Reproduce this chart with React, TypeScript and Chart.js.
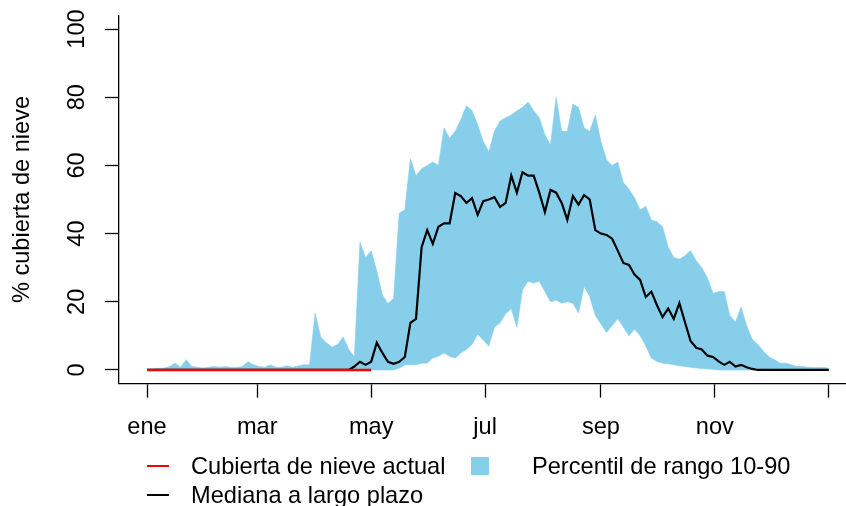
import React, { useEffect, useRef } from "react";
import { Chart, registerables } from "chart.js";

Chart.register(...registerables);

// ---- data ----
// one value every 3 days, from 1 Jan (day 0); the last entry is day 365
const STEP_DAYS = 3;
const LAST_DAY = 365;

const MONTH_TICK_DAYS = [0, 59, 120, 181, 243, 304, 365];
const MONTH_LABELS = ["ene", "mar", "may", "jul", "sep", "nov", ""];
const Y_TICKS = [0, 20, 40, 60, 80, 100];

// current snow cover (%), 1 Jan .. 1 May
const CURRENT = [
  0, 0, 0, 0, 0, 0, 0, 0, 0, 0,
  0, 0, 0, 0, 0, 0, 0, 0, 0, 0,
  0, 0, 0, 0, 0, 0, 0, 0, 0, 0,
  0, 0, 0, 0, 0, 0, 0, 0, 0, 0,
  0,
];

// long term median (%)
const MEDIAN = [
  0, 0, 0, 0, 0, 0, 0, 0, 0, 0,
  0, 0, 0, 0, 0, 0, 0, 0, 0, 0,
  0, 0, 0, 0, 0, 0, 0, 0, 0, 0,
  0, 0, 0, 0, 0, 0, 0, 1, 2.4, 1.5,
  2.4, 8, 5, 2.4, 1.8, 2.4, 3.8, 13.8, 15, 36,
  41, 37, 42, 43, 43, 51.9, 51, 49, 50.4, 45.5,
  49.5, 50, 50.7, 47.8, 49, 57, 52, 58, 57, 57,
  52, 46.3, 52.8, 52, 49, 44, 51, 48.5, 51.3, 50,
  41, 40, 39.6, 38.5, 35, 31.4, 30.8, 28, 26.4, 21.4,
  23, 19, 15.5, 18, 15, 19.6, 14, 8.5, 6.5, 6,
  4.2, 3.8, 2.5, 1.5, 2.4, 1, 1.5, 0.8, 0.3, 0,
  0, 0, 0, 0, 0, 0, 0, 0, 0, 0,
  0, 0, 0,
];

// 90th percentile (%)
const P90 = [
  0.3, 0.3, 0.5, 0.5, 1, 2, 0.8, 3, 1, 0.8,
  0.6, 0.8, 1, 0.8, 1, 0.7, 0.8, 1, 2.4, 1.5,
  1, 0.8, 1.5, 0.8, 0.8, 1.2, 0.8, 1.2, 1.5, 1.5,
  16.7, 9.7, 8, 6.7, 7.5, 9.7, 6, 3.8, 37.5, 33,
  35, 29, 22, 19.5, 21, 46, 47, 62, 57, 59,
  60, 61, 60, 71, 68, 70, 73.5, 77.5, 76, 72,
  67, 64, 70, 73, 74, 74.8, 76, 77, 78.6, 76,
  74, 69, 66, 80, 70, 70, 78, 77, 71, 70,
  74.8, 67, 61.6, 60, 61, 55, 53, 50.5, 47, 48,
  44, 43.5, 42, 36, 33, 32.5, 33.5, 35, 32, 30,
  27, 22.5, 23, 23, 16, 14, 18.5, 13, 9, 7.5,
  5.5, 3.8, 3, 2, 2, 1.5, 1, 1, 0.8, 0.7,
  0.7, 0.7, 0.5,
];

// 10th percentile (%)
const P10 = [
  0, 0, 0, 0, 0, 0, 0, 0, 0, 0,
  0, 0, 0, 0, 0, 0, 0, 0, 0, 0,
  0, 0, 0, 0, 0, 0, 0, 0, 0, 0,
  0, 0, 0, 0, 0, 0, 0, 0, 0, 0,
  0, 0, 0, 0, 0, 0.5, 1.5, 1.5, 1.5, 2,
  2, 3.5, 4, 5, 4, 3.5, 5, 6, 7.5, 10.5,
  8.8, 7, 12.6, 13.8, 16.5, 18, 12.5, 23.5, 26, 25.5,
  26, 23, 20, 20.5, 19.6, 20, 19.6, 16.7, 24.5, 21.5,
  16, 13.5, 11, 13, 15, 12.6, 10, 12, 10, 7,
  3.5, 2.5, 2, 1.8, 1.5, 1.2, 1, 0.8, 0.6, 0.4,
  0.3, 0.2, 0, 0, 0, 0, 0, 0, 0, 0,
  0, 0, 0, 0, 0, 0, 0, 0, 0, 0,
  0, 0, 0,
];

const LABEL_CURRENT = "Cubierta de nieve actual";
const LABEL_MEDIAN = "Mediana a largo plazo";
const LABEL_BAND = "Percentil de rango 10-90";
const Y_TITLE = "% cubierta de nieve";

// ---- styles ----
const FONT = '"Liberation Sans", Arial, Helvetica, sans-serif';
const FONT_SIZE = 23.6;
const RED = "#FF0000";
const BLACK = "#000000";
const SKY = "#87CEEB";

const dayOf = (i: number) => Math.min(i * STEP_DAYS, LAST_DAY);
const toPoints = (arr: number[]) => arr.map((v, i) => ({ x: dayOf(i), y: v }));

const rLegend = {
  id: "rLegend",
  afterDraw(chart: any) {
    const { ctx } = chart;
    const ds = chart.data.datasets;
    ctx.save();
    ctx.font = `${FONT_SIZE}px ${FONT}`;
    ctx.textBaseline = "middle";
    ctx.textAlign = "left";
    const lineItem = (d: any, y: number) => {
      ctx.strokeStyle = d.borderColor;
      ctx.lineWidth = 2;
      ctx.beginPath();
      ctx.moveTo(147, y);
      ctx.lineTo(169, y);
      ctx.stroke();
      ctx.fillStyle = BLACK;
      ctx.fillText(d.label, 191, y + 1);
    };
    lineItem(ds[0], 466);
    lineItem(ds[1], 495);
    const band = ds[2];
    ctx.fillStyle = band.backgroundColor;
    ctx.fillRect(471, 457, 18, 18);
    ctx.fillStyle = BLACK;
    ctx.fillText(band.label, 532, 467);
    ctx.restore();
  },
};

export default function App() {
  const ref = useRef<HTMLCanvasElement | null>(null);

  useEffect(() => {
    if (!ref.current) return;
    const font = { family: FONT, size: FONT_SIZE };
    const chart = new Chart(ref.current, {
      type: "line",
      data: {
        datasets: [
          {
            label: LABEL_CURRENT,
            data: toPoints(CURRENT),
            borderColor: RED,
            borderWidth: 2.5,
            pointRadius: 0,
            fill: false,
          },
          {
            label: LABEL_MEDIAN,
            data: toPoints(MEDIAN),
            borderColor: BLACK,
            borderWidth: 2.2,
            pointRadius: 0,
            fill: false,
          },
          {
            label: LABEL_BAND,
            data: toPoints(P90),
            borderColor: SKY,
            backgroundColor: SKY,
            borderWidth: 0.6,
            pointRadius: 0,
            fill: "+1",
          },
          {
            label: "p10",
            data: toPoints(P10),
            borderColor: SKY,
            borderWidth: 0.6,
            pointRadius: 0,
            fill: false,
          },
        ],
      },
      options: {
        responsive: false,
        animation: false,
        devicePixelRatio: 1,
        layout: { padding: { top: 15.4, right: 0, bottom: 0, left: 0 } },
        plugins: {
          legend: { display: false },
          tooltip: { enabled: false },
        },
        scales: {
          x: {
            type: "linear",
            min: -15,
            max: 374.2,
            afterBuildTicks: (s: any) => {
              s.ticks = MONTH_TICK_DAYS.map((v) => ({ value: v }));
            },
            afterFit: (s: any) => {
              s.height = 122.4;
              s.paddingLeft = 0;
              s.paddingRight = 0;
            },
            ticks: {
              autoSkip: false,
              maxRotation: 0,
              minRotation: 0,
              padding: 16,
              color: BLACK,
              font,
              callback: (_v: any, i: number) => MONTH_LABELS[i],
            },
            grid: {
              drawOnChartArea: false,
              drawTicks: true,
              tickLength: 14,
              tickColor: BLACK,
              tickWidth: 1.3,
              color: BLACK,
            },
            border: { display: true, color: BLACK, width: 1.3 },
          },
          y: {
            type: "linear",
            min: -4,
            max: 104,
            afterBuildTicks: (s: any) => {
              s.ticks = Y_TICKS.map((v) => ({ value: v }));
            },
            afterFit: (s: any) => {
              s.width = 119;
              s.paddingTop = 0;
              s.paddingBottom = 0;
            },
            ticks: {
              minRotation: 90,
              maxRotation: 90,
              crossAlign: "center",
              padding: 8,
              color: BLACK,
              font,
            },
            grid: {
              drawOnChartArea: false,
              drawTicks: true,
              tickLength: 14,
              tickColor: BLACK,
              tickWidth: 1.3,
              color: BLACK,
            },
            border: { display: true, color: BLACK, width: 1.3 },
            title: {
              display: true,
              text: Y_TITLE,
              color: BLACK,
              font,
              padding: { top: 8, bottom: 0 },
            },
          },
        },
      },
      plugins: [rLegend],
    } as any);
    return () => chart.destroy();
  }, []);

  return (
    <div style={{ position: "absolute", left: 0, top: 0, width: 846, height: 506, background: "#fff" }}>
      <canvas ref={ref} width={846} height={506} style={{ display: "block" }} />
    </div>
  );
}
